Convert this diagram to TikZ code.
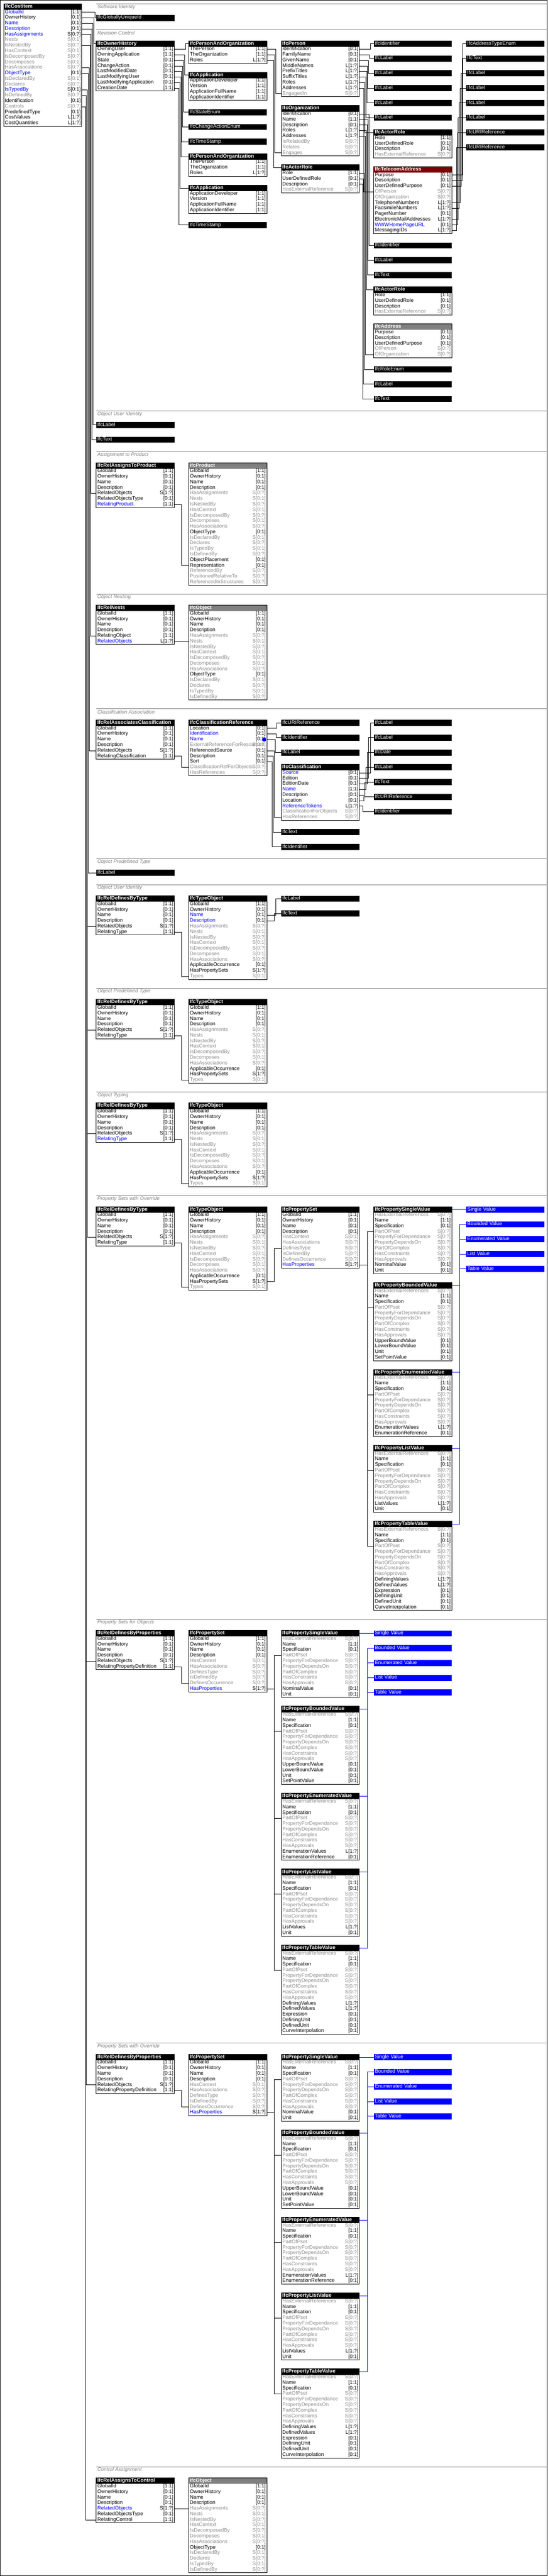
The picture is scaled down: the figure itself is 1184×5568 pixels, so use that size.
\documentclass[tikz,border=0pt]{standalone}
\usepackage{fontspec}
\setmainfont{Liberation Sans}

\definecolor{ng}{RGB}{140,140,140}
\colorlet{nk}{black}
\colorlet{nb}{blue}
\colorlet{nkc}{black}
\colorlet{nbc}{black}
\colorlet{ngc}{ng}
\definecolor{abstr}{RGB}{128,128,128}
\definecolor{sel}{RGB}{128,0,0}
\definecolor{sepgray}{RGB}{128,128,128}

\tikzset{
  ttl/.style={anchor=north west, draw=black, fill=black, text=white, inner xsep=2pt, inner ysep=0pt,
    text width=164pt, minimum height=12pt, text height=8pt, text depth=3pt, align=left,
    font=\fontsize{11}{12}\selectfont\bfseries},
  typ/.style={ttl, font=\fontsize{11}{12}\selectfont},
  blu/.style={typ, fill=blue, draw=blue},
  rowbox/.style={anchor=north west, inner sep=0pt, minimum width=168pt, minimum height=12pt},
  rowtxt/.style={anchor=west, inner xsep=2pt, inner ysep=0pt, text height=8pt, text depth=3pt,
    font=\fontsize{11}{12}\selectfont},
  cardtxt/.style={rowtxt, anchor=east},
  lnk/.style={draw=black},
  blnk/.style={draw=blue},
  sepln/.style={draw=sepgray},
  seclbl/.style={anchor=west, inner sep=0pt, text=sepgray, font=\fontsize{11}{12}\selectfont\itshape},
}

\begin{document}
\begin{tikzpicture}[x=1pt,y=-1pt,line width=1pt]

\useasboundingbox (0,0) rectangle (1184,5568);
\draw (0.5,0.5) rectangle (1183.5,5567.5); %% frame

%% entity box: [title fill]{name}{x}{y}{title}{rows}
\newcommand\Ent[6][black]{%
  \node[ttl,fill=#1,draw=#1] (#2) at (#3,#4) {#5};
  \edef\entrows{#6}%
  \foreach \nm/\cd/\cl [count=\i] in \entrows {%
    \node[rowbox] (#2-\i) at (#3,{#4+12+12*(\i-1)}) {};
    \node[rowtxt,text=\cl] (#2-\i-n) at (#2-\i.west) {\nm};
    \node[cardtxt,text=\cl c] (#2-\i-c) at (#2-\i.east) {\cd};
    \xdef\lastrow{\i}%
  }
  \draw (#2.north west) rectangle (#2-\lastrow.south east);
}
\newcommand\Typ[4]{\node[typ] (#1) at (#2,#3) {#4};}
\newcommand\Blu[4]{\node[blu] (#1) at (#2,#3) {#4};}
\newcommand\Lnk[3]{\draw[lnk] (#1.east) -- ++(#3,0) |- (#2.west);}
\newcommand\BLnk[3]{\draw[blnk] (#1.east) -- ++(#3,0) |- (#2.west);}
\newcommand\Sec[3]{\draw[sepln] (208,#2) -- (1184,#2); \node[seclbl] (#1) at (210,#2+7) {#3};}

%% row lists
\def\RootRows{GlobalId/[1:1]/nk,OwnerHistory/[0:1]/nk,Name/[0:1]/nk,Description/[0:1]/nk}
\def\InvRows{HasAssignments/S[0:?]/ng,Nests/S[0:1]/ng,IsNestedBy/S[0:?]/ng,HasContext/S[0:1]/ng,
  IsDecomposedBy/S[0:?]/ng,Decomposes/S[0:1]/ng,HasAssociations/S[0:?]/ng}
\def\ObjTail{ObjectType/[0:1]/nk,IsDeclaredBy/S[0:1]/ng,Declares/S[0:?]/ng,IsTypedBy/S[0:1]/ng,IsDefinedBy/S[0:?]/ng}
\def\TypTail{ApplicableOccurrence/[0:1]/nk,HasPropertySets/S[1:?]/nk,Types/S[0:1]/ng}
\def\PaoRows{ThePerson/[1:1]/nk,TheOrganization/[1:1]/nk,Roles/L[1:?]/nk}
\def\AppRows{ApplicationDeveloper/[1:1]/nk,Version/[1:1]/nk,ApplicationFullName/[1:1]/nk,ApplicationIdentifier/[1:1]/nk}
\def\RoleRows{Role/[1:1]/nk,UserDefinedRole/[0:1]/nk,Description/[0:1]/nk,HasExternalReference/S[0:?]/ng}
\def\AdrRows{Purpose/[0:1]/nk,Description/[0:1]/nk,UserDefinedPurpose/[0:1]/nk,OfPerson/S[0:?]/ng,OfOrganization/S[0:?]/ng}
\def\PsetRows{\RootRows,HasContext/S[0:1]/ng,HasAssociations/S[0:?]/ng,DefinesType/S[0:?]/ng,
  IsDefinedBy/S[0:?]/ng,DefinesOccurrence/S[0:?]/ng,HasProperties/S[1:?]/nb}
\def\PropRows{HasExternalReferences/S[0:?]/ng,Name/[1:1]/nk,Specification/[0:1]/nk,PartOfPset/S[0:?]/ng,
  PropertyForDependance/S[0:?]/ng,PropertyDependsOn/S[0:?]/ng,PartOfComplex/S[0:?]/ng,
  HasConstraints/S[0:?]/ng,HasApprovals/S[0:?]/ng}
\def\SVRows{\PropRows,NominalValue/[0:1]/nk,Unit/[0:1]/nk}
\def\BVRows{\PropRows,UpperBoundValue/[0:1]/nk,LowerBoundValue/[0:1]/nk,Unit/[0:1]/nk,SetPointValue/[0:1]/nk}
\def\EVRows{\PropRows,EnumerationValues/L[1:?]/nk,EnumerationReference/[0:1]/nk}
\def\LVRows{\PropRows,ListValues/L[1:?]/nk,Unit/[0:1]/nk}
\def\TVRows{\PropRows,DefiningValues/L[1:?]/nk,DefinedValues/L[1:?]/nk,Expression/[0:1]/nk,
  DefiningUnit/[0:1]/nk,DefinedUnit/[0:1]/nk,CurveInterpolation/[0:1]/nk}

%% property value stack: {tag}{x}{y}{pset}{offset}
\newcommand\Props[5]{%
  \Ent{sv#1}{#2}{#3}{IfcPropertySingleValue}{\SVRows}
  \Ent{bv#1}{#2}{#3+164}{IfcPropertyBoundedValue}{\BVRows}
  \Ent{ev#1}{#2}{#3+352}{IfcPropertyEnumeratedValue}{\EVRows}
  \Ent{lv#1}{#2}{#3+516}{IfcPropertyListValue}{\LVRows}
  \Ent{tv#1}{#2}{#3+680}{IfcPropertyTableValue}{\TVRows}
  \Blu{bsv#1}{#2+200}{#3}{Single Value}
  \Blu{bbv#1}{#2+200}{#3+32}{Bounded Value}
  \Blu{bev#1}{#2+200}{#3+64}{Enumerated Value}
  \Blu{blv#1}{#2+200}{#3+96}{List Value}
  \Blu{btv#1}{#2+200}{#3+128}{Table Value}
  \foreach \v in {sv,bv,ev,lv,tv} {\Lnk{#4-10}{\v#1-4}{#5}}
  \draw[blnk] (sv#1.east) -- (bsv#1.west);
  \foreach \v/\b in {bv/bbv,ev/bev,lv/blv,tv/btv} {\BLnk{\v#1}{\b#1}{17}}
}

%% sections
\Sec{secA}{8}{Software Identity}
\Sec{secB}{64}{Revision Control}
\Sec{secC}{888}{Object User Identity}
\Sec{secD}{976}{Assignment to Product}
\Sec{secE}{1284}{Object Nesting}
\Sec{secF}{1532}{Classification Association}
\Sec{secG}{1856}{Object Predefined Type}
\Sec{secH}{1912}{Object User Identity}
\Sec{secI}{2136}{Object Predefined Type}
\Sec{secJ}{2360}{Object Typing}
\Sec{secK}{2584}{Property Sets with Override}
\Sec{secL}{3500}{Property Sets for Objects}
\Sec{secM}{4416}{Property Sets with Override}
\Sec{secN}{5332}{Control Assignment}

%% the cost item
\Ent{ci}{8}{8}{IfcCostItem}{GlobalId/[1:1]/nb,OwnerHistory/[0:1]/nk,Name/[0:1]/nb,Description/[0:1]/nb,
  HasAssignments/S[0:?]/nb,Nests/S[0:1]/ng,IsNestedBy/S[0:?]/ng,HasContext/S[0:1]/ng,IsDecomposedBy/S[0:?]/ng,
  Decomposes/S[0:1]/ng,HasAssociations/S[0:?]/ng,ObjectType/[0:1]/nb,IsDeclaredBy/S[0:1]/ng,Declares/S[0:?]/ng,
  IsTypedBy/S[0:1]/nb,IsDefinedBy/S[0:?]/ng,Identification/[0:1]/nk,Controls/S[0:?]/ng,PredefinedType/[0:1]/nk,
  CostValues/L[1:?]/nk,CostQuantities/L[1:?]/nk}

%% software identity
\Typ{gui}{208}{32}{IfcGloballyUniqueId}

%% revision control
\Ent{oh}{208}{88}{IfcOwnerHistory}{OwningUser/[1:1]/nk,OwningApplication/[1:1]/nk,State/[0:1]/nk,
  ChangeAction/[0:1]/nk,LastModifiedDate/[0:1]/nk,LastModifyingUser/[0:1]/nk,
  LastModifyingApplication/[0:1]/nk,CreationDate/[1:1]/nk}
\Ent{paoA}{408}{88}{IfcPersonAndOrganization}{\PaoRows}
\Ent{appA}{408}{156}{IfcApplication}{\AppRows}
\Typ{stEnum}{408}{236}{IfcStateEnum}
\Typ{caEnum}{408}{268}{IfcChangeActionEnum}
\Typ{tsA}{408}{300}{IfcTimeStamp}
\Ent{paoB}{408}{332}{IfcPersonAndOrganization}{\PaoRows}
\Ent{appB}{408}{400}{IfcApplication}{\AppRows}
\Typ{tsB}{408}{480}{IfcTimeStamp}
\Ent{per}{608}{88}{IfcPerson}{Identification/[0:1]/nk,FamilyName/[0:1]/nk,GivenName/[0:1]/nk,
  MiddleNames/L[1:?]/nk,PrefixTitles/L[1:?]/nk,SuffixTitles/L[1:?]/nk,Roles/L[1:?]/nk,
  Addresses/L[1:?]/nk,EngagedIn/S[0:?]/ng}
\Ent{org}{608}{228}{IfcOrganization}{Identification/[0:1]/nk,Name/[1:1]/nk,Description/[0:1]/nk,
  Roles/L[1:?]/nk,Addresses/L[1:?]/nk,IsRelatedBy/S[0:?]/ng,Relates/S[0:?]/ng,Engages/S[0:?]/ng}
\Ent{arA}{608}{356}{IfcActorRole}{\RoleRows}
\Typ{idA}{808}{88}{IfcIdentifier}
\Typ{lbA}{808}{120}{IfcLabel}
\Typ{lbB}{808}{152}{IfcLabel}
\Typ{lbC}{808}{184}{IfcLabel}
\Typ{lbD}{808}{216}{IfcLabel}
\Typ{lbE}{808}{248}{IfcLabel}
\Ent{arB}{808}{280}{IfcActorRole}{\RoleRows}
\Ent[sel]{tel}{808}{360}{IfcTelecomAddress}{\AdrRows,TelephoneNumbers/L[1:?]/nk,FacsimileNumbers/L[1:?]/nk,
  PagerNumber/[0:1]/nk,ElectronicMailAddresses/L[1:?]/nk,WWWHomePageURL/[0:1]/nb,MessagingIDs/L[1:?]/nk}
\Typ{idB}{808}{524}{IfcIdentifier}
\Typ{lbF}{808}{556}{IfcLabel}
\Typ{txA}{808}{588}{IfcText}
\Ent{arC}{808}{620}{IfcActorRole}{\RoleRows}
\Ent[abstr]{adr}{808}{700}{IfcAddress}{\AdrRows}
\Typ{roleEnum}{808}{792}{IfcRoleEnum}
\Typ{lbG}{808}{824}{IfcLabel}
\Typ{txB}{808}{856}{IfcText}
\Typ{atEnum}{1008}{88}{IfcAddressTypeEnum}
\Typ{txC}{1008}{120}{IfcText}
\Typ{lbH}{1008}{152}{IfcLabel}
\Typ{lbI}{1008}{184}{IfcLabel}
\Typ{lbJ}{1008}{216}{IfcLabel}
\Typ{lbK}{1008}{248}{IfcLabel}
\Typ{uriA}{1008}{280}{IfcURIReference}
\Typ{uriB}{1008}{312}{IfcURIReference}

%% object user identity
\Typ{ouiLabel}{208}{912}{IfcLabel}
\Typ{ouiText}{208}{944}{IfcText}

%% assignment to product
\Ent{rap}{208}{1000}{IfcRelAssignsToProduct}{\RootRows,RelatedObjects/S[1:?]/nk,RelatedObjectsType/[0:1]/nk,
  RelatingProduct/[1:1]/nb}
\Ent[abstr]{prd}{408}{1000}{IfcProduct}{\RootRows,\InvRows,\ObjTail,ObjectPlacement/[0:1]/nk,
  Representation/[0:1]/nk,ReferencedBy/S[0:?]/ng,PositionedRelativeTo/S[0:?]/ng,ReferencedInStructures/S[0:?]/ng}

%% object nesting
\Ent{rn}{208}{1308}{IfcRelNests}{\RootRows,RelatingObject/[1:1]/nk,RelatedObjects/L[1:?]/nb}
\Ent[abstr]{objA}{408}{1308}{IfcObject}{\RootRows,\InvRows,\ObjTail}

%% classification association
\Ent{rac}{208}{1556}{IfcRelAssociatesClassification}{\RootRows,RelatedObjects/S[1:?]/nk,
  RelatingClassification/[1:1]/nk}
\Ent{cref}{408}{1556}{IfcClassificationReference}{Location/[0:1]/nk,Identification/[0:1]/nb,Name/[0:1]/nb,
  ExternalReferenceForResources/S[0:?]/ng,ReferencedSource/[0:1]/nk,Description/[0:1]/nk,Sort/[0:1]/nk,
  ClassificationRefForObjects/S[0:?]/ng,HasReferences/S[0:?]/ng}
\node[circle,fill=blue,inner sep=0pt,minimum size=9pt] (hilite) at ([xshift=-6pt]cref-3.east) {};
\Typ{uriC}{608}{1556}{IfcURIReference}
\Typ{idC}{608}{1588}{IfcIdentifier}
\Typ{lbL}{608}{1620}{IfcLabel}
\Ent{cls}{608}{1652}{IfcClassification}{Source/[0:1]/nb,Edition/[0:1]/nk,EditionDate/[0:1]/nk,Name/[1:1]/nb,
  Description/[0:1]/nk,Location/[0:1]/nk,ReferenceTokens/L[1:?]/nb,ClassificationForObjects/S[0:?]/ng,
  HasReferences/S[0:?]/ng}
\Typ{txD}{608}{1792}{IfcText}
\Typ{idD}{608}{1824}{IfcIdentifier}
\Typ{lbM}{808}{1556}{IfcLabel}
\Typ{lbN}{808}{1588}{IfcLabel}
\Typ{dateA}{808}{1620}{IfcDate}
\Typ{lbO}{808}{1652}{IfcLabel}
\Typ{txE}{808}{1684}{IfcText}
\Typ{uriD}{808}{1716}{IfcURIReference}
\Typ{idE}{808}{1748}{IfcIdentifier}

%% object predefined type
\Typ{optLabel}{208}{1880}{IfcLabel}

%% object user identity (type)
\Ent{dtA}{208}{1936}{IfcRelDefinesByType}{\RootRows,RelatedObjects/S[1:?]/nk,RelatingType/[1:1]/nk}
\Ent{toA}{408}{1936}{IfcTypeObject}{GlobalId/[1:1]/nk,OwnerHistory/[0:1]/nk,Name/[0:1]/nb,
  Description/[0:1]/nb,\InvRows,\TypTail}
\Typ{lbP}{608}{1936}{IfcLabel}
\Typ{txF}{608}{1968}{IfcText}

%% object predefined type (type)
\Ent{dtB}{208}{2160}{IfcRelDefinesByType}{\RootRows,RelatedObjects/S[1:?]/nk,RelatingType/[1:1]/nk}
\Ent{toB}{408}{2160}{IfcTypeObject}{\RootRows,\InvRows,\TypTail}

%% object typing
\Ent{dtC}{208}{2384}{IfcRelDefinesByType}{\RootRows,RelatedObjects/S[1:?]/nk,RelatingType/[1:1]/nb}
\Ent{toC}{408}{2384}{IfcTypeObject}{\RootRows,\InvRows,\TypTail}

%% property sets with override (type)
\Ent{dtD}{208}{2608}{IfcRelDefinesByType}{\RootRows,RelatedObjects/S[1:?]/nk,RelatingType/[1:1]/nk}
\Ent{toD}{408}{2608}{IfcTypeObject}{\RootRows,\InvRows,\TypTail}
\Ent{psA}{608}{2608}{IfcPropertySet}{\PsetRows}
\Props{A}{808}{2608}{psA}{17}

%% property sets for objects
\Ent{dpA}{208}{3524}{IfcRelDefinesByProperties}{\RootRows,RelatedObjects/S[1:?]/nk,
  RelatingPropertyDefinition/[1:1]/nk}
\Ent{psB}{408}{3524}{IfcPropertySet}{\PsetRows}
\Props{B}{608}{3524}{psB}{16}

%% property sets with override (occurrence)
\Ent{dpB}{208}{4440}{IfcRelDefinesByProperties}{\RootRows,RelatedObjects/S[1:?]/nk,
  RelatingPropertyDefinition/[1:1]/nk}
\Ent{psC}{408}{4440}{IfcPropertySet}{\PsetRows}
\Props{C}{608}{4440}{psC}{16}

%% control assignment
\Ent{rc}{208}{5356}{IfcRelAssignsToControl}{\RootRows,RelatedObjects/S[1:?]/nb,RelatedObjectsType/[0:1]/nk,
  RelatingControl/[1:1]/nk}
\Ent[abstr]{objB}{408}{5356}{IfcObject}{\RootRows,\InvRows,\ObjTail}

%% links from the cost item
\Lnk{ci-1}{gui}{28}
\Lnk{ci-2}{oh}{26}
\Lnk{ci-3}{ouiLabel}{24}
\Lnk{ci-4}{ouiText}{22}
\Lnk{ci-5}{rap-5}{20}
\Lnk{ci-7}{rn-5}{18}
\Lnk{ci-11}{rac-5}{16}
\Lnk{ci-12}{optLabel}{14}
\foreach \t in {dtA,dtB,dtC,dtD} {\Lnk{ci-15}{\t-5}{12}}
\foreach \t in {dpA,dpB} {\Lnk{ci-16}{\t-5}{10}}
\Lnk{ci-18}{rc-7}{8}

%% revision control links
\Lnk{oh-1}{paoA}{24}
\Lnk{oh-2}{appA}{22}
\Lnk{oh-3}{stEnum}{20}
\Lnk{oh-4}{caEnum}{18}
\Lnk{oh-5}{tsA}{16}
\Lnk{oh-6}{paoB}{14}
\Lnk{oh-7}{appB}{12}
\Lnk{oh-8}{tsB}{10}
\Lnk{paoA-1}{per-9}{19}
\Lnk{paoA-2}{org-8}{17}
\Lnk{paoA-3}{arA}{15}
\Lnk{per-1}{idA}{24}
\Lnk{per-2}{lbA}{22}
\Lnk{per-3}{lbB}{20}
\Lnk{per-4}{lbC}{18}
\Lnk{per-5}{lbD}{16}
\Lnk{per-6}{lbE}{14}
\Lnk{per-7}{arB}{12}
\Lnk{per-8}{tel-4}{10}
\Lnk{org-1}{idB}{21}
\Lnk{org-2}{lbF}{19}
\Lnk{org-3}{txA}{17}
\Lnk{org-4}{arC}{15}
\Lnk{org-5}{adr-5}{13}
\Lnk{arA-1}{roleEnum}{11}
\Lnk{arA-2}{lbG}{9}
\Lnk{arA-3}{txB}{7}
\Lnk{tel-1}{atEnum}{24}
\Lnk{tel-2}{txC}{22}
\Lnk{tel-3}{lbH}{20}
\Lnk{tel-6}{lbI}{18}
\Lnk{tel-7}{lbJ}{16}
\Lnk{tel-9}{lbK}{14}
\Lnk{tel-10}{uriA}{12}
\Lnk{tel-11}{uriB}{10}

%% product, nesting, classification links
\Lnk{rap-7}{prd-18}{16}
\draw[lnk] (rn-6.east) -- (objA-6.west);
\Lnk{rac-6}{cref-8}{16}
\Lnk{cref-1}{uriC}{22}
\Lnk{cref-2}{idC}{20}
\Lnk{cref-3}{lbL}{18}
\Lnk{cref-5}{cls-9}{16}
\Lnk{cref-6}{txD}{14}
\Lnk{cref-7}{idD}{12}
\Lnk{cls-1}{lbM}{24}
\Lnk{cls-2}{lbN}{20}
\Lnk{cls-3}{dateA}{17}
\Lnk{cls-4}{lbO}{14}
\Lnk{cls-5}{txE}{12}
\Lnk{cls-6}{uriD}{10}
\Lnk{cls-7}{idE}{8}

%% typing links
\foreach \t/\o in {dtA/toA,dtB/toB,dtC/toC,dtD/toD} {\Lnk{\t-6}{\o-14}{16}}
\Lnk{toA-3}{lbP}{19}
\Lnk{toA-4}{txF}{16}
\Lnk{toD-13}{psA-7}{16}
\Lnk{dpA-6}{psB-9}{16}
\Lnk{dpB-6}{psC-9}{16}
\draw[lnk] (rc-5.east) -- (objB-5.west);

\end{tikzpicture}
\end{document}
